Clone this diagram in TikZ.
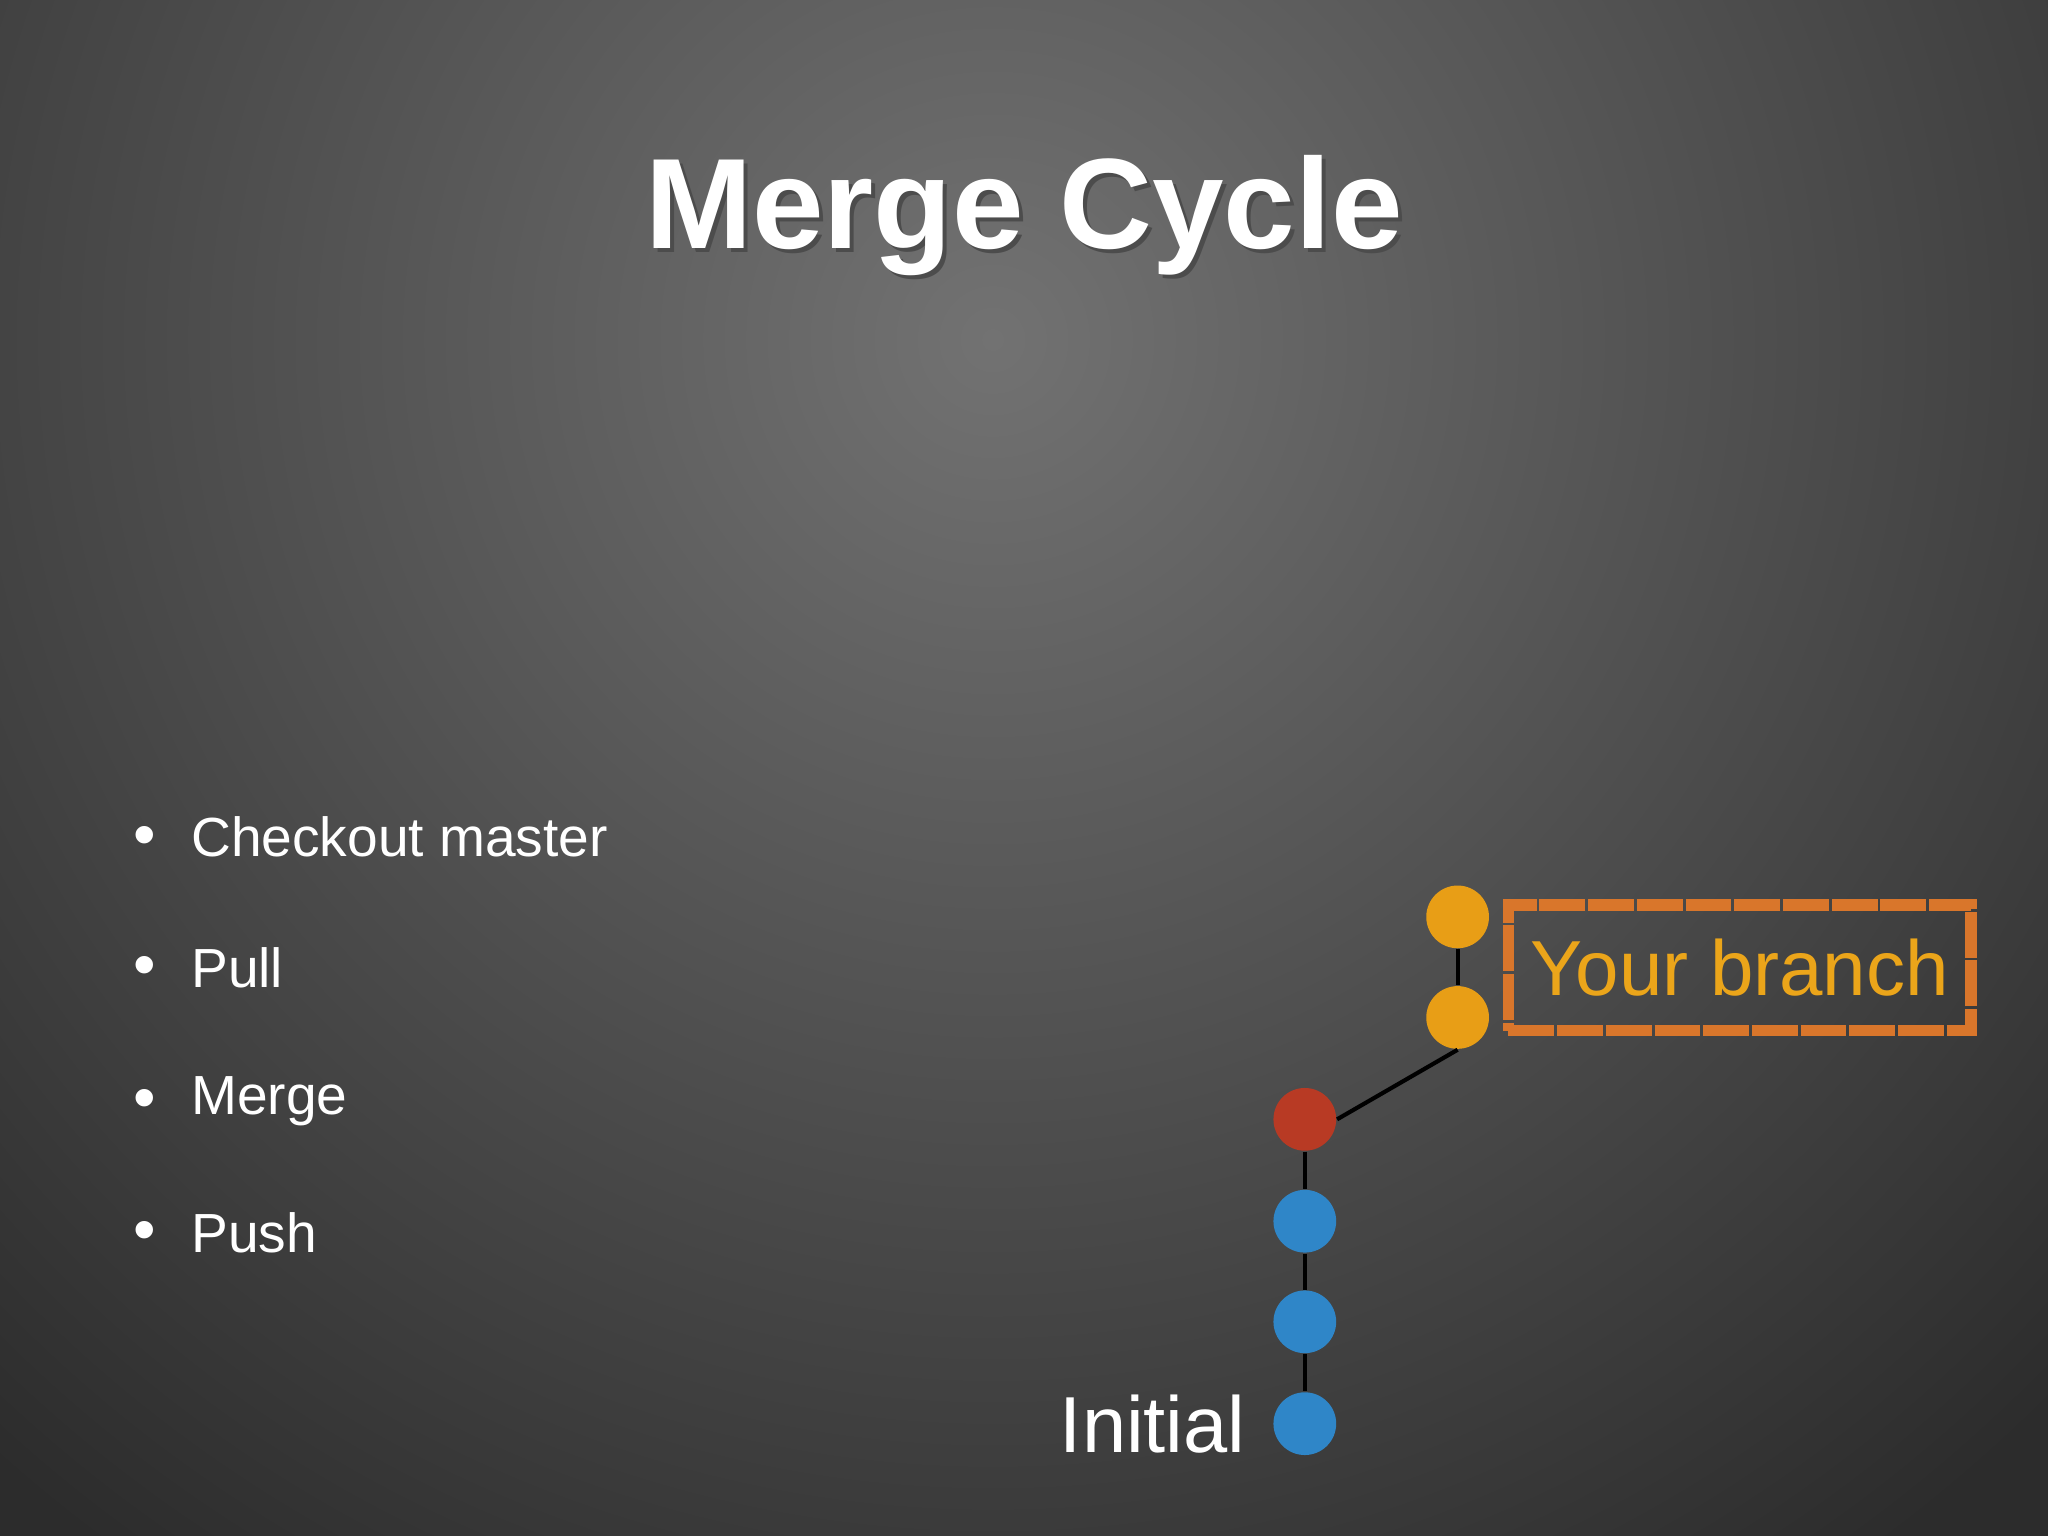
\documentclass[tikz,border=0pt]{standalone}
\usepackage{fontspec}
\setmainfont{Liberation Sans}
\definecolor{bgin}{HTML}{727272}
\definecolor{bgout}{HTML}{2C2C2C}
\definecolor{cOr}{HTML}{E89E16}
\definecolor{cRed}{HTML}{B83A24}
\definecolor{cBlue}{HTML}{2F86C8}
\definecolor{cBox}{HTML}{D9762B}
\definecolor{cTxt}{HTML}{EBA51A}
\tikzset{
  commit/.style={circle,minimum size=0.48cm,inner sep=0pt},
  bul/.style={anchor=west,text=white,font=\fontsize{12}{14}\selectfont},
  link/.style={draw=black,line width=0.9pt}
}
\begin{document}
\begin{tikzpicture}[x=0.01cm,y=-0.01cm]
\useasboundingbox (0,0) rectangle (1568,1176);
\begin{scope}
\clip (0,0) rectangle (1568,1176);
\fill[bgout] (0,0) rectangle (1568,1176);
\shade[inner color=bgin,outer color=bgout] (760,260) circle (1150);
\end{scope}
\node[text=black!70,font=\bfseries\fontsize{28}{32}\selectfont] at (787,168) {Merge Cycle};
\node (title) [text=white,font=\bfseries\fontsize{28}{32}\selectfont] at (784,165) {Merge Cycle};
\foreach \y/\t [count=\i] in {641/Checkout master,741/Pull,843/Merge,944/Push}{
  \node[text=white,font=\fontsize{14}{16}\selectfont] (b\i) at (111,\y+3) {\textbullet};
  \node[bul] (t\i) at (134,\y) {\t};
}
\node[commit,fill=cOr] (o1) at (1116,702) {};
\node[commit,fill=cOr] (o2) at (1116,779) {};
\node[commit,fill=cRed] (r) at (999,857) {};
\node[commit,fill=cBlue] (b1) at (999,935) {};
\node[commit,fill=cBlue] (b2) at (999,1012) {};
\node[commit,fill=cBlue] (b3) at (999,1090) {};
\draw[link] (o1) -- (o2);
\draw[link] (o2.south) -- (r.east);
\draw[link] (r) -- (b1);
\draw[link] (b1) -- (b2);
\draw[link] (b2) -- (b3);
\node[draw=cBox,line width=2.5pt,dash pattern=on 10pt off 0.6pt,minimum width=3.54cm,minimum height=0.96cm,text=cTxt,font=\fontsize{17}{19}\selectfont] (yb) at (1332,741) {Your branch};
\node[anchor=east,text=white,font=\fontsize{17.3}{20}\selectfont] (init) at (966,1090) {Initial};
\end{tikzpicture}
\end{document}
